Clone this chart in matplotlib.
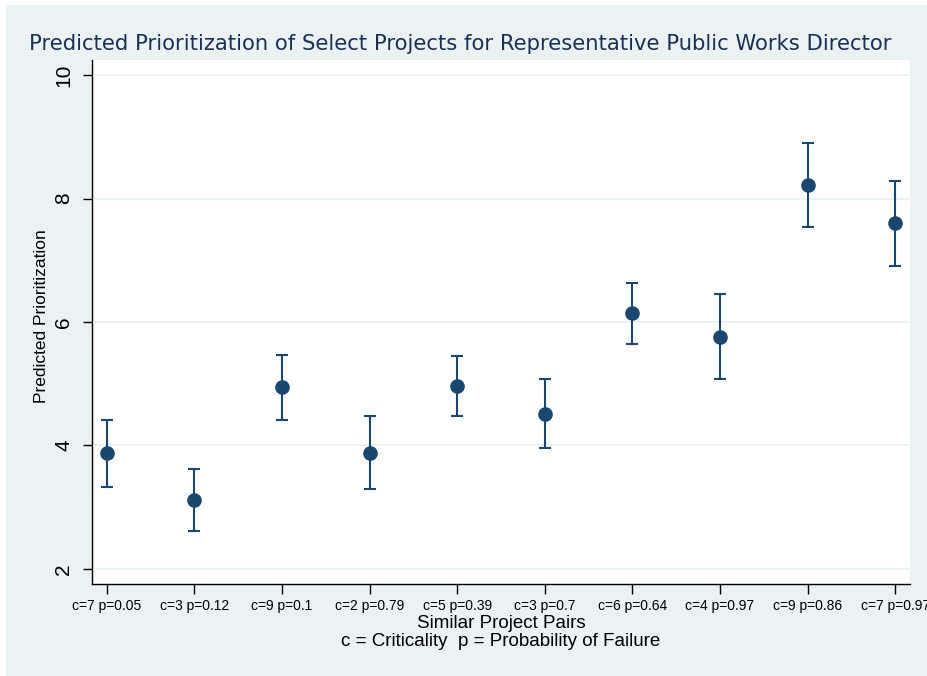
import matplotlib
matplotlib.use("Agg")
import matplotlib.pyplot as plt
from matplotlib.patches import Rectangle

plt.rcParams['font.family'] = ['Liberation Sans', 'DejaVu Sans']

# Project pairs and their predicted prioritization with confidence bounds
pairs = ["c=7 p=0.05", "c=3 p=0.12", "c=9 p=0.1", "c=2 p=0.79", "c=5 p=0.39",
         "c=3 p=0.7", "c=6 p=0.64", "c=4 p=0.97", "c=9 p=0.86", "c=7 p=0.97"]
predicted = [3.88, 3.11, 4.95, 3.88, 4.97, 4.51, 6.14, 5.76, 8.22, 7.60]
upper = [4.42, 3.62, 5.47, 4.47, 5.45, 5.07, 6.63, 6.46, 8.90, 8.28]
lower = [3.33, 2.61, 4.42, 3.29, 4.48, 3.96, 5.65, 5.07, 7.54, 6.91]
y_ticks = [2, 4, 6, 8, 10]

BG = "#EAF2F3"
NAVY = "#1A476F"

W, H = 928, 676
fig = plt.figure(figsize=(W / 100, H / 100), dpi=100, facecolor="white")
fig.patches.append(Rectangle((6 / W, 0), 1 - 6 / W, 1 - 5 / H,
                             transform=fig.transFigure, facecolor=BG,
                             edgecolor="none", zorder=-10))

ax = fig.add_axes([92 / W, 1 - 584 / H, (910 - 92) / W, (584 - 60) / H])
ax.set_facecolor("white")

x = list(range(len(pairs)))
err_lo = [p - l for p, l in zip(predicted, lower)]
err_hi = [u - p for p, u in zip(predicted, upper)]
ax.errorbar(x, predicted, yerr=[err_lo, err_hi], fmt="o", color=NAVY,
            ecolor=NAVY, elinewidth=1.5, capsize=4.3, capthick=1.5,
            markersize=9.5, zorder=3, clip_on=False)

ax.set_xlim(-0.17, 9.17)
ax.set_ylim(1.757, 10.243)
ax.set_yticks(y_ticks)
ax.set_yticklabels([str(t) for t in y_ticks], rotation=90, va="center",
                   fontsize=15)
ax.set_xticks(x)
ax.set_xticklabels(pairs, fontsize=10)
ax.grid(axis="y", color=BG, linewidth=1.5, zorder=0)
ax.set_axisbelow(True)

for side in ("top", "right"):
    ax.spines[side].set_visible(False)
for side in ("left", "bottom"):
    ax.spines[side].set_color("black")
    ax.spines[side].set_linewidth(1.0)
ax.tick_params(axis="y", length=6.5, width=1.0, pad=7, colors="black")
ax.tick_params(axis="x", length=7, width=1.0, pad=4, colors="black")

ax.set_ylabel("Predicted Prioritization", fontsize=12.5)
ax.yaxis.set_label_coords(-0.0526, 0.5105)

fig.text(501 / W, 1 - 623 / H, "Similar Project Pairs", fontsize=13.5,
         ha="center", va="center")
fig.text(501 / W, 1 - 642 / H, "c = Criticality  p = Probability of Failure",
         fontsize=13.5, ha="center", va="center")

fig.text(460 / W, 1 - 44 / H,
         "Predicted Prioritization of Select Projects for Representative Public Works Director",
         fontsize=15.2, color="#1E2F55", ha="center", va="center",
         family=["DejaVu Sans"])

fig.savefig("out.png", dpi=100, facecolor=fig.get_facecolor())
